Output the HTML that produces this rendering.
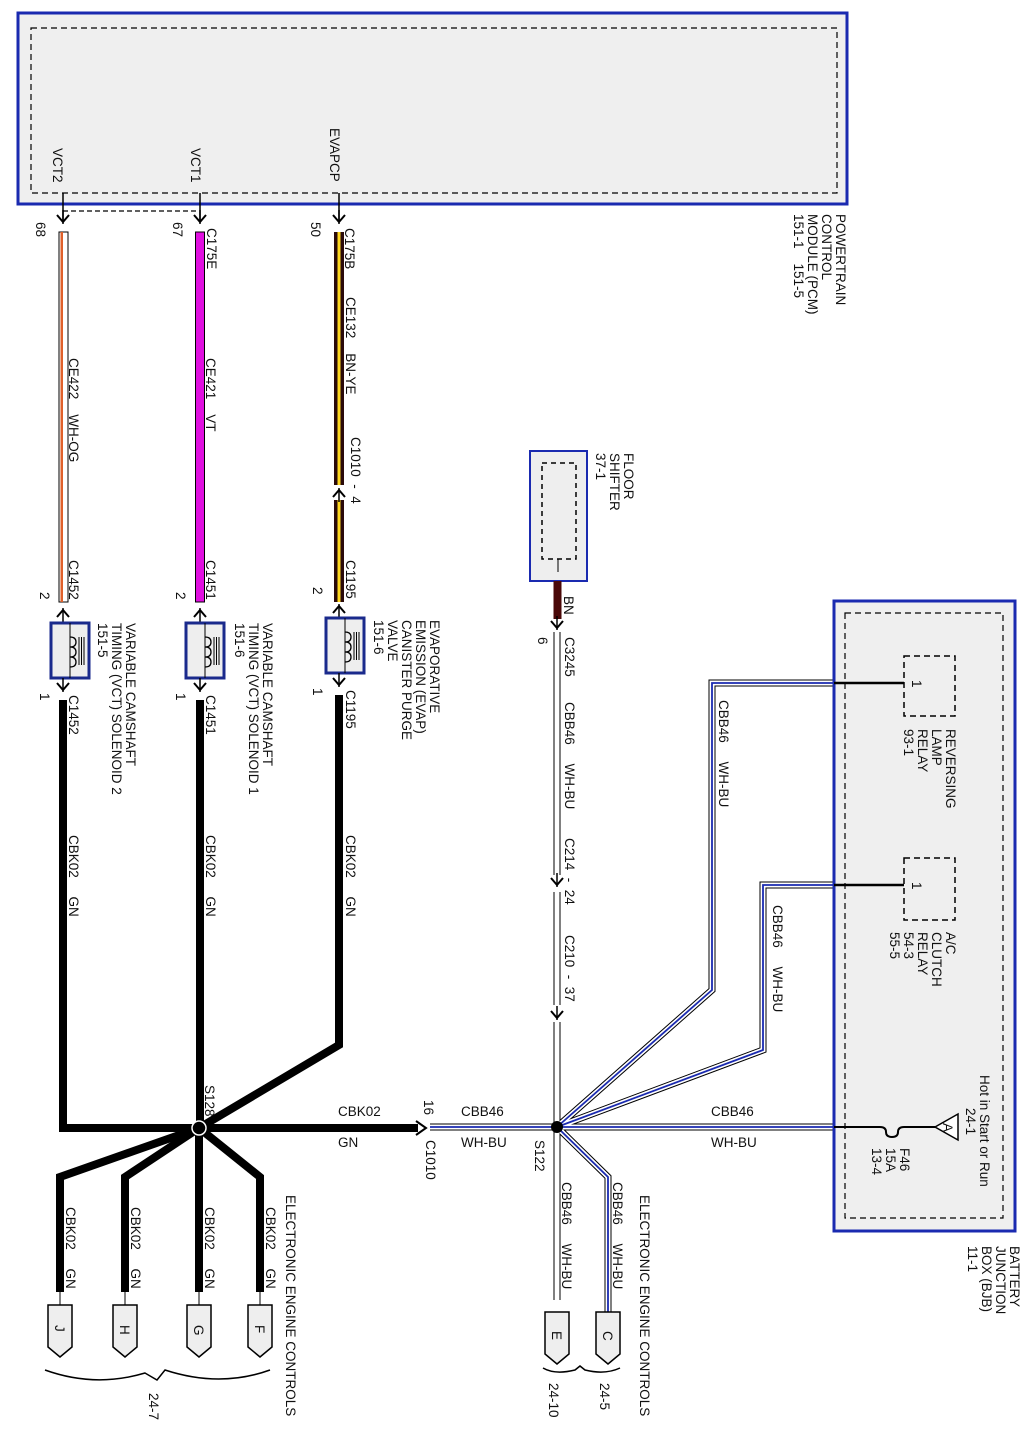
<!DOCTYPE html>
<html><head><meta charset="utf-8"><style>
html,body{margin:0;padding:0;background:#fff;}
svg{display:block;}
text{font-family:"Liberation Sans",sans-serif;font-size:13.5px;fill:#111;white-space:pre;}
</style></head><body>
<svg width="1028" height="1442" viewBox="0 0 1028 1442" xmlns="http://www.w3.org/2000/svg" xml:space="preserve">
<defs>
<g id="arr"><path d="M-6,-7 L0,0 L6,-7" fill="none" stroke="#000" stroke-width="2"/><line x1="0" y1="-12" x2="0" y2="2" stroke="#000" stroke-width="1.5"/></g>
<g id="arru"><path d="M-6,7 L0,0 L6,7" fill="none" stroke="#000" stroke-width="2"/><line x1="0" y1="12" x2="0" y2="-2" stroke="#000" stroke-width="1.5"/></g>
<g id="conn"><path d="M-12,0 L12,0 L12,42 L0,52 L-12,42 Z" fill="#eee" stroke="#000" stroke-width="1.5"/></g>
<g id="sol"><rect x="-19" y="0" width="38" height="55" fill="#eee" stroke="#1a2a8c" stroke-width="3"/><line x1="0" y1="0" x2="0" y2="55" stroke="#000" stroke-width="1"/><path d="M0,14 q6,0 6,5 q0,5 -6,5 q6,0 6,5 q0,5 -6,5 q6,0 6,5 q0,5 -6,5" fill="none" stroke="#000" stroke-width="1.3"/><line x1="9" y1="14" x2="9" y2="42" stroke="#000"/><line x1="11.5" y1="14" x2="11.5" y2="42" stroke="#000"/><line x1="14" y1="14" x2="14" y2="42" stroke="#000"/></g>
</defs>

<!-- PCM -->
<rect x="18" y="13" width="829" height="191" fill="#efefef" stroke="#1a2ab0" stroke-width="3"/>
<rect x="31" y="28" width="806" height="165" fill="none" stroke="#000" stroke-width="1.2" stroke-dasharray="6,4"/>
<text transform="translate(53,148) rotate(90)">VCT2</text>
<text transform="translate(191,148) rotate(90)">VCT1</text>
<text transform="translate(330,128) rotate(90)">EVAPCP</text>
<line x1="63" y1="193" x2="63" y2="222" stroke="#000" stroke-width="1.5"/>
<line x1="200" y1="193" x2="200" y2="222" stroke="#000" stroke-width="1.5"/>
<line x1="339" y1="193" x2="339" y2="222" stroke="#000" stroke-width="1.5"/>
<use href="#arr" x="63" y="222"/><use href="#arr" x="200" y="222"/><use href="#arr" x="339" y="222"/>
<line x1="63" y1="211" x2="196" y2="211" stroke="#000" stroke-width="1.2" stroke-dasharray="5,3"/>
<text transform="translate(836,214) rotate(90)">POWERTRAIN</text>
<text transform="translate(822,214) rotate(90)">CONTROL</text>
<text transform="translate(808,214) rotate(90)">MODULE (PCM)</text>
<text transform="translate(794,214) rotate(90)">151-1    151-5</text>

<text transform="translate(36,222) rotate(90)">68</text>
<text transform="translate(173,222) rotate(90)">67</text>
<text transform="translate(311,222) rotate(90)">50</text>
<text transform="translate(207,228) rotate(90)">C175E</text>
<text transform="translate(345,228) rotate(90)">C175B</text>

<rect x="59" y="232" width="9" height="370" fill="#fff" stroke="#000" stroke-width="1"/>
<rect x="60.5" y="232" width="2.5" height="370" fill="#e0602a"/>
<rect x="195.5" y="232" width="9" height="370" fill="#e010e0" stroke="#000" stroke-width="1"/>
<rect x="334" y="232" width="10" height="253" fill="#2a0a0a"/>
<rect x="337.5" y="232" width="3" height="253" fill="#ffd820"/>
<rect x="334" y="500" width="10" height="102" fill="#2a0a0a"/>
<rect x="337.5" y="500" width="3" height="102" fill="#ffd820"/>
<use href="#arru" x="339" y="490"/>

<text transform="translate(69,358) rotate(90)">CE422    WH-OG</text>
<text transform="translate(206,358) rotate(90)">CE421    VT</text>
<text transform="translate(346,297) rotate(90)">CE132    BN-YE</text>
<text transform="translate(351,437) rotate(90)">C1010  -  4</text>

<use href="#arru" x="63" y="610"/><use href="#arru" x="200" y="610"/><use href="#arru" x="339" y="606"/>
<use href="#sol" x="70" y="623"/><use href="#sol" x="205" y="623"/><use href="#sol" x="345" y="618"/>
<use href="#arr" x="63" y="690"/><use href="#arr" x="200" y="690"/><use href="#arr" x="339" y="685"/>
<text transform="translate(69,560) rotate(90)">C1452</text>
<text transform="translate(206,560) rotate(90)">C1451</text>
<text transform="translate(346,560) rotate(90)">C1195</text>
<text transform="translate(40,592) rotate(90)">2</text>
<text transform="translate(176,592) rotate(90)">2</text>
<text transform="translate(313,587) rotate(90)">2</text>
<text transform="translate(40,693) rotate(90)">1</text>
<text transform="translate(176,693) rotate(90)">1</text>
<text transform="translate(313,688) rotate(90)">1</text>
<text transform="translate(69,695) rotate(90)">C1452</text>
<text transform="translate(206,695) rotate(90)">C1451</text>
<text transform="translate(346,690) rotate(90)">C1195</text>
<text transform="translate(126,623) rotate(90)">VARIABLE CAMSHAFT</text>
<text transform="translate(112,623) rotate(90)">TIMING (VCT) SOLENOID 2</text>
<text transform="translate(98,623) rotate(90)">151-5</text>
<text transform="translate(263,623) rotate(90)">VARIABLE CAMSHAFT</text>
<text transform="translate(249,623) rotate(90)">TIMING (VCT) SOLENOID 1</text>
<text transform="translate(235,623) rotate(90)">151-6</text>
<text transform="translate(430,620) rotate(90)">EVAPORATIVE</text>
<text transform="translate(416,620) rotate(90)">EMISSION (EVAP)</text>
<text transform="translate(402,620) rotate(90)">CANISTER PURGE</text>
<text transform="translate(388,620) rotate(90)">VALVE</text>
<text transform="translate(374,620) rotate(90)">151-6</text>

<g fill="none" stroke="#000" stroke-width="8" stroke-linejoin="miter">
<path d="M63,700 L63,1128 L199,1128"/>
<path d="M200,700 L200,1128"/>
<path d="M339,695 L339,1045 L199,1128"/>
<path d="M199,1128 L418,1128"/>
<path d="M199,1128 L60,1177 L60,1292"/>
<path d="M199,1128 L125,1177 L125,1292"/>
<path d="M199,1128 L199,1292"/>
<path d="M199,1128 L260,1177 L260,1292"/>
</g>
<circle cx="199" cy="1128" r="7" fill="#000" stroke="#fff" stroke-width="1.5"/>
<text transform="translate(69,835) rotate(90)">CBK02     GN</text>
<text transform="translate(206,835) rotate(90)">CBK02     GN</text>
<text transform="translate(346,835) rotate(90)">CBK02     GN</text>
<text transform="translate(205,1085) rotate(90)">S128</text>
<text x="338" y="1116">CBK02</text>
<text x="338" y="1147">GN</text>
<path d="M416,1121 L426,1128 L416,1135" fill="none" stroke="#000" stroke-width="2"/>
<text transform="translate(424,1100) rotate(90)">16</text>
<text transform="translate(426,1140) rotate(90)">C1010</text>

<g>
<line x1="60" y1="1292" x2="60" y2="1305" stroke="#000"/><use href="#conn" x="60" y="1305"/>
<line x1="125" y1="1292" x2="125" y2="1305" stroke="#000"/><use href="#conn" x="125" y="1305"/>
<line x1="199" y1="1292" x2="199" y2="1305" stroke="#000"/><use href="#conn" x="199" y="1305"/>
<line x1="260" y1="1292" x2="260" y2="1305" stroke="#000"/><use href="#conn" x="260" y="1305"/>
</g>
<text transform="translate(55,1325) rotate(90)">J</text>
<text transform="translate(120,1325) rotate(90)">H</text>
<text transform="translate(194,1325) rotate(90)">G</text>
<text transform="translate(255,1325) rotate(90)">F</text>
<text transform="translate(66,1207) rotate(90)">CBK02     GN</text>
<text transform="translate(131,1207) rotate(90)">CBK02     GN</text>
<text transform="translate(205,1207) rotate(90)">CBK02     GN</text>
<text transform="translate(266,1207) rotate(90)">CBK02     GN</text>
<path d="M45,1370 Q95,1388 145,1373 L157,1380 L165,1370 Q220,1388 270,1370" fill="none" stroke="#000" stroke-width="1.5"/>
<text transform="translate(149,1393) rotate(90)">24-7</text>
<text transform="translate(286,1195) rotate(90)">ELECTRONIC ENGINE CONTROLS</text>

<rect x="530" y="451" width="57" height="130" fill="#eee" stroke="#1a2ab0" stroke-width="2"/>
<rect x="542" y="463" width="34" height="96" fill="none" stroke="#000" stroke-width="1.5" stroke-dasharray="5,4"/>
<line x1="558" y1="559" x2="558" y2="572" stroke="#000"/>
<text transform="translate(624,453) rotate(90)">FLOOR</text>
<text transform="translate(610,453) rotate(90)">SHIFTER</text>
<text transform="translate(596,453) rotate(90)">37-1</text>
<rect x="553.5" y="581" width="8" height="38" fill="#4a0808"/>
<text transform="translate(564,596) rotate(90)">BN</text>
<use href="#arr" x="557" y="628"/>
<text transform="translate(538,637) rotate(90)">6</text>
<text transform="translate(565,637) rotate(90)">C3245</text>

<g fill="none" stroke-linejoin="miter">
<g stroke="#000" stroke-width="7">
<path d="M557,632 L557,875"/><path d="M557,892 L557,1005"/><path d="M557,1022 L557,1300"/>
<path d="M557,1127 L834,1127"/><path d="M430,1127 L557,1127"/>
<path d="M557,1127 L712,990 L712,683 L834,683"/>
<path d="M557,1127 L763,1050 L763,885 L834,885"/>
<path d="M557,1127 L608,1177 L608,1312"/>
</g>
<g stroke="#fff" stroke-width="5">
<path d="M557,632 L557,875"/><path d="M557,892 L557,1005"/><path d="M557,1022 L557,1300"/>
<path d="M557,1127 L834,1127"/><path d="M430,1127 L557,1127"/>
<path d="M557,1127 L712,990 L712,683 L834,683"/>
<path d="M557,1127 L763,1050 L763,885 L834,885"/>
<path d="M557,1127 L608,1177 L608,1312"/>
</g>
<g stroke="#1a2ab0" stroke-width="1.8">
<path d="M430,1127 L557,1127"/><path d="M557,1127 L834,1127"/>
<path d="M557,1127 L712,990 L712,683 L834,683"/>
<path d="M557,1127 L763,1050 L763,885 L834,885"/>
<path d="M557,1127 L608,1177 L608,1312"/>
</g>
</g>
<use href="#arr" x="557" y="885"/><use href="#arr" x="557" y="1018"/>
<text transform="translate(565,702) rotate(90)">CBB46     WH-BU</text>
<text transform="translate(565,838) rotate(90)">C214  -  24</text>
<text transform="translate(565,935) rotate(90)">C210  -  37</text>
<text transform="translate(719,700) rotate(90)">CBB46     WH-BU</text>
<text transform="translate(773,905) rotate(90)">CBB46     WH-BU</text>
<circle cx="557" cy="1127" r="6" fill="#000"/>
<text x="461" y="1116">CBB46</text>
<text x="461" y="1147">WH-BU</text>
<text x="711" y="1116">CBB46</text>
<text x="711" y="1147">WH-BU</text>
<text transform="translate(535,1140) rotate(90)">S122</text>
<text transform="translate(562,1182) rotate(90)">CBB46     WH-BU</text>
<text transform="translate(613,1182) rotate(90)">CBB46     WH-BU</text>
<use href="#conn" x="557" y="1312"/><use href="#conn" x="608" y="1312"/>
<text transform="translate(552,1331) rotate(90)">E</text>
<text transform="translate(603,1331) rotate(90)">C</text>
<path d="M543,1368 Q555,1375 575,1370 L580,1366 L585,1370 Q605,1375 620,1368" fill="none" stroke="#000" stroke-width="1.5"/>
<text transform="translate(549,1383) rotate(90)">24-10</text>
<text transform="translate(600,1383) rotate(90)">24-5</text>
<text transform="translate(640,1195) rotate(90)">ELECTRONIC ENGINE CONTROLS</text>

<rect x="834" y="601" width="181" height="630" fill="#efefef" stroke="#1a2ab0" stroke-width="3"/>
<rect x="845" y="613" width="158" height="605" fill="none" stroke="#000" stroke-width="1.2" stroke-dasharray="6,4"/>
<rect x="904" y="656" width="51" height="60" fill="none" stroke="#000" stroke-width="1.5" stroke-dasharray="6,4"/>
<rect x="904" y="858" width="51" height="62" fill="none" stroke="#000" stroke-width="1.5" stroke-dasharray="6,4"/>
<line x1="834" y1="683" x2="904" y2="683" stroke="#000" stroke-width="2.5"/>
<line x1="834" y1="885" x2="904" y2="885" stroke="#000" stroke-width="2.5"/>
<text transform="translate(912,680) rotate(90)">1</text>
<text transform="translate(912,882) rotate(90)">1</text>
<text transform="translate(946,729) rotate(90)">REVERSING</text>
<text transform="translate(932,729) rotate(90)">LAMP</text>
<text transform="translate(918,729) rotate(90)">RELAY</text>
<text transform="translate(904,729) rotate(90)">93-1</text>
<text transform="translate(946,932) rotate(90)">A/C</text>
<text transform="translate(932,932) rotate(90)">CLUTCH</text>
<text transform="translate(918,932) rotate(90)">RELAY</text>
<text transform="translate(904,932) rotate(90)">54-3</text>
<text transform="translate(890,932) rotate(90)">55-5</text>
<path d="M834,1127 L880,1127 q6,0 6,5 q0,5 6,5 q6,0 6,-5 q0,-5 6,-5 L935,1127" fill="none" stroke="#000" stroke-width="2"/>
<path d="M935,1127 L958,1114 L958,1140 Z" fill="#fff" stroke="#000" stroke-width="1.5"/>
<text transform="translate(943,1123) rotate(90)" font-size="10">A</text>
<text transform="translate(966,1108) rotate(90)">24-1</text>
<text transform="translate(980,1075) rotate(90)">Hot in Start or Run</text>
<text transform="translate(900,1148) rotate(90)">F46</text>
<text transform="translate(886,1148) rotate(90)">15A</text>
<text transform="translate(872,1148) rotate(90)">13-4</text>
<text transform="translate(1010,1246) rotate(90)">BATTERY</text>
<text transform="translate(996,1246) rotate(90)">JUNCTION</text>
<text transform="translate(982,1246) rotate(90)">BOX (BJB)</text>
<text transform="translate(968,1246) rotate(90)">11-1</text>
</svg>
</body></html>
